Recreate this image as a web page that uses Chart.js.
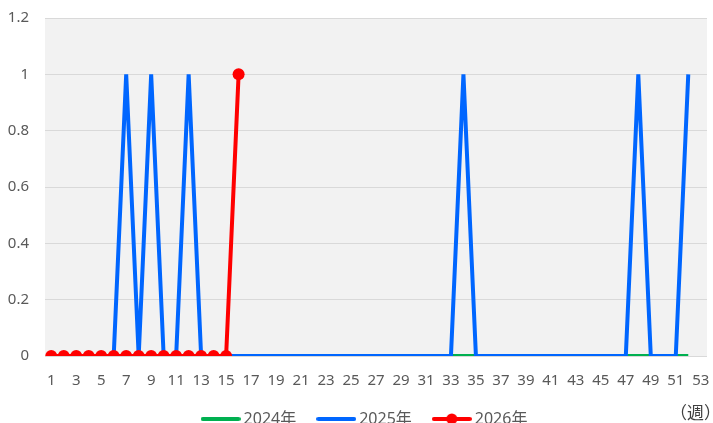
<!DOCTYPE html>
<html>
<head>
<meta charset="utf-8">
<script src="https://cdn.jsdelivr.net/npm/chart.js@4/dist/chart.umd.min.js"></script>
<style>
  html, body { margin: 0; padding: 0; background: #ffffff; overflow: hidden; }
  #wrap { position: relative; width: 713px; height: 437px; }
</style>
</head>
<body>
<div id="wrap"><canvas id="c"></canvas></div>
<script>
// Week numbers on the category axis
const weeks = ['1','2','3','4','5','6','7','8','9','10','11','12','13','14','15','16','17','18','19','20',
  '21','22','23','24','25','26','27','28','29','30','31','32','33','34','35','36','37','38','39','40',
  '41','42','43','44','45','46','47','48','49','50','51','52','53'];

// Weekly counts per year
const y2024 = [0,0,0,0,0,0,0,0,0,0,0,0,0,0,0,0,0,0,0,0,0,0,0,0,0,0,
               0,0,0,0,0,0,0,0,0,0,0,0,0,0,0,0,0,0,0,0,0,0,0,0,0,0];
const y2025 = [0,0,0,0,0,0,1,0,1,0,0,1,0,0,0,0,0,0,0,0,0,0,0,0,0,0,
               0,0,0,0,0,0,0,1,0,0,0,0,0,0,0,0,0,0,0,0,0,1,0,0,0,1];
const y2026 = [0,0,0,0,0,0,0,0,0,0,0,0,0,0,0,1];

// Value axis ticks
const yTicks = [0, 0.2, 0.4, 0.6, 0.8, 1, 1.2];

const seriesNames = ['2024年', '2025年', '2026年'];
const seriesColors = ['#00b050', '#0066ff', '#ff0000'];

// Legend swatches: a short thick line, with a dot for the marker series
function swatch(color, withDot) {
  const cv = document.createElement('canvas');
  cv.width = 40; cv.height = 14;
  const g = cv.getContext('2d');
  g.strokeStyle = color; g.lineWidth = 4; g.lineCap = 'round';
  g.beginPath(); g.moveTo(2, 7); g.lineTo(38, 7); g.stroke();
  if (withDot) {
    g.fillStyle = color;
    g.beginPath(); g.arc(20, 7, 5.5, 0, Math.PI * 2); g.fill();
  }
  return cv;
}
const swatches = [swatch(seriesColors[0], false), swatch(seriesColors[1], false), swatch(seriesColors[2], true)];

const plotBackground = {
  id: 'plotBackground',
  beforeDraw(chart) {
    const { ctx, chartArea: a } = chart;
    ctx.save();
    ctx.fillStyle = '#f2f2f2';
    ctx.fillRect(a.left, a.top, a.right - a.left, a.bottom - a.top);
    ctx.restore();
  }
};

// Nudge the legend block a little to the right of the canvas centre
const legendShift = {
  id: 'legendShift',
  afterLayout(chart) {
    if (chart.legend) { chart.legend.left += 9; chart.legend.right += 9; }
  }
};

const unitLabel = {
  id: 'unitLabel',
  afterDraw(chart) {
    const ctx = chart.ctx;
    ctx.save();
    ctx.fillStyle = '#404040';
    ctx.font = '17px "Noto Sans CJK JP"';
    ctx.textAlign = 'left';
    ctx.textBaseline = 'middle';
    ctx.fillText('（週）', 670, 413);
    ctx.restore();
  }
};

const font = { family: '"Noto Sans", "Noto Sans CJK JP", sans-serif', size: 15 };

new Chart(document.getElementById('c'), {
  type: 'line',
  data: {
    labels: weeks,
    datasets: [
      { label: seriesNames[0], data: y2024, borderColor: seriesColors[0], backgroundColor: seriesColors[0],
        borderWidth: 4, pointRadius: 0, pointHoverRadius: 0, tension: 0, order: 3 },
      { label: seriesNames[1], data: y2025, borderColor: seriesColors[1], backgroundColor: seriesColors[1],
        borderWidth: 4, pointRadius: 0, pointHoverRadius: 0, tension: 0, order: 2 },
      { label: seriesNames[2], data: y2026, borderColor: seriesColors[2], backgroundColor: seriesColors[2],
        borderWidth: 4, pointRadius: 6, pointBorderWidth: 0, pointHoverRadius: 6, tension: 0, order: 1 }
    ]
  },
  options: {
    responsive: true,
    maintainAspectRatio: false,
    animation: false,
    layout: { padding: { left: 7, right: 5, top: 18, bottom: 0 } },
    scales: {
      x: {
        offset: true,
        grid: { display: false, drawTicks: false },
        border: { display: false },
        afterFit: (s) => { s.paddingRight = 0; s.paddingLeft = 0; s.height = 30; },
        ticks: {
          autoSkip: false, maxRotation: 0, padding: 16, color: '#595959', font,
          callback: (v, i) => (i % 2 === 0 ? weeks[i] : '')
        }
      },
      y: {
        min: 0, max: 1.2,
        afterBuildTicks: (axis) => { axis.ticks = yTicks.map(v => ({ value: v })); },
        afterFit: (s) => { s.width = 38; s.paddingTop = 0; s.paddingBottom = 0; },
        grid: { color: '#d9d9d9', lineWidth: 1, drawTicks: false },
        border: { display: false },
        ticks: { padding: 16, color: '#595959', font, callback: (v) => String(v) }
      }
    },
    plugins: {
      tooltip: { enabled: false },
      legend: {
        position: 'bottom',
        labels: {
          usePointStyle: true,
          pointStyleWidth: 30,
          padding: 25,
          color: '#595959',
          font: { family: font.family, size: 16 },
          generateLabels: (chart) => chart.data.datasets.map((ds, i) => ({
            text: ds.label, pointStyle: swatches[i], fillStyle: ds.borderColor,
            strokeStyle: ds.borderColor, lineWidth: 0, datasetIndex: i, fontColor: '#595959'
          }))
        }
      }
    }
  },
  plugins: [plotBackground, legendShift, unitLabel]
});
</script>
</body>
</html>
